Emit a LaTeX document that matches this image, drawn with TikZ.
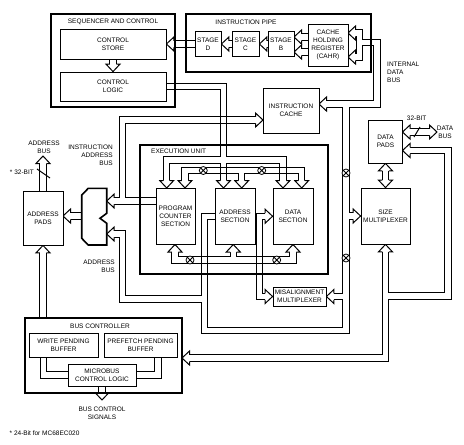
\documentclass[tikz,border=0pt]{standalone}
\usepackage{fontspec}
\setmainfont{Liberation Sans}
\usetikzlibrary{positioning}

\pgfdeclarelayer{buses}
\pgfsetlayers{buses,main}

\newcommand\lbl{\fontsize{6.5}{7.8}\selectfont}
% grid where two buses cross without joining
\newcommand\xing[2]{%
  \draw[line width=1pt] (#1-3.25,#2-3.75) -- (#1-3.25,#2+3.75) (#1+3.25,#2-3.75) -- (#1+3.25,#2+3.75)
    (#1-3.75,#2-3.25) -- (#1+3.75,#2-3.25) (#1-3.75,#2+3.25) -- (#1+3.75,#2+3.25);}

\tikzset{
  blk/.style={draw, line width=0.8pt, fill=white, align=center, inner sep=1pt, font=\lbl},
  unit/.style={line width=1.8pt},
  tag/.style={font=\lbl, inner sep=0pt, align=center},
  busout/.style={line width=7.5pt},
  busin/.style={line width=5.5pt, white},
  xsw/.style={circle, draw, line width=0.8pt, fill=white, minimum size=8pt, inner sep=0pt,
    path picture={\draw[line width=0.8pt]
      (path picture bounding box.north west) -- (path picture bounding box.south east)
      (path picture bounding box.north east) -- (path picture bounding box.south west);}},
  hhead/.pic={
    \fill[white] (0,0) -- (-7.5,7) -- (-7.5,-7) -- cycle;
    \draw[line width=1pt] (-7.5,3.25) -- (-7.5,7) -- (0,0) -- (-7.5,-7) -- (-7.5,-3.25);}
}

\begin{document}
\begin{tikzpicture}[x=1pt, y=-1pt]
\useasboundingbox (0,0) rectangle (464,445);

% sequencer and control
\draw[unit] (51,14) rectangle (175,107);
\node[tag] (tseq) at (113,22) {SEQUENCER AND CONTROL};
\node[blk, minimum width=106pt, minimum height=30pt] (cstore) at (113,44) {CONTROL\\STORE};
\node[blk, minimum width=106pt, minimum height=29pt] (clogic) at (113,86.5) {CONTROL\\LOGIC};

% instruction pipe
\draw[unit] (186,14) rectangle (371,72);
\node[tag] (tpipe) at (246,22.5) {INSTRUCTION PIPE};
\node[blk, minimum width=26pt, minimum height=25pt] (stgD) at (208,44) {STAGE\\D};
\node[blk, minimum width=27pt, minimum height=25pt] (stgC) at (245.5,44) {STAGE\\C};
\node[blk, minimum width=26pt, minimum height=25pt] (stgB) at (281,44) {STAGE\\B};
\node[blk, minimum width=40pt, minimum height=42pt] (cahr) at (328,45) {CACHE\\HOLDING\\REGISTER\\(CAHR)};

\node[blk, minimum width=56pt, minimum height=45pt] (icache) at (291,110.5) {INSTRUCTION\\CACHE};

% execution unit
\draw[unit] (140,145) rectangle (328,274);
\node[tag, anchor=west] (texec) at (151,151) {EXECUTION UNIT};
\node[blk, minimum width=39pt, minimum height=56.5pt] (pcs) at (175.5,216.25) {PROGRAM\\COUNTER\\SECTION};
\node[blk, minimum width=40pt, minimum height=56.5pt] (asec) at (235,216.25) {ADDRESS\\SECTION};
\node[blk, minimum width=40pt, minimum height=56.5pt] (dsec) at (293,216.25) {DATA\\SECTION};

\node[blk, minimum width=34pt, minimum height=43pt] (dpads) at (385.5,141.5) {DATA\\PADS};
\node[blk, minimum width=49pt, minimum height=56pt] (smux) at (385.5,216) {SIZE\\MULTIPLEXER};
\node[blk, minimum width=53pt, minimum height=19pt] (mmux) at (299.5,296.5) {MISALIGNMENT\\MULTIPLEXER};
\node[blk, minimum width=40pt, minimum height=54pt] (apads) at (43,218) {ADDRESS\\PADS};

% bus controller
\draw[unit] (25,318) rectangle (182,393);
\node[tag] (tbus) at (100,326) {BUS CONTROLLER};
\node[blk, minimum width=69pt, minimum height=24pt] (wpb) at (63.5,345) {WRITE PENDING\\BUFFER};
\node[blk, minimum width=73pt, minimum height=24pt] (ppb) at (140.5,345) {PREFETCH PENDING\\BUFFER};
\node[blk, minimum width=68pt, minimum height=22pt] (mcl) at (102,375) {MICROBUS\\CONTROL LOGIC};

% address multiplexer
\draw[line width=1.6pt, fill=white] (88.3,188.3) -- (106.7,188.3) -- (106.7,213.3) -- (100,218.3)
  -- (106.7,223.3) -- (106.7,245) -- (88.3,245) -- (81.7,238.3) -- (81.7,195) -- cycle;

% bus ends
\coordinate (tB1) at (294,37);   \coordinate (tB2) at (294,52);
\coordinate (tC1) at (348,33);   \coordinate (tC2) at (348,57);
\coordinate (tIc) at (319,104);  \coordinate (tIw) at (263,120);
\coordinate (pco) at (156,201);  \coordinate (mxa) at (106.7,201);  \coordinate (mxb) at (106.7,234);
\coordinate (cb1) at (223.5,188);
\coordinate (t1) at (166.7,188); \coordinate (t2) at (185,188);   \coordinate (t3) at (283,188);
\coordinate (t4) at (301.7,188); \coordinate (t5) at (241.7,188);
\coordinate (u1) at (175,244.5); \coordinate (u2) at (233.3,244.5); \coordinate (u3) at (293,244.5);
\coordinate (dx1) at (402.5,132); \coordinate (dx2) at (437,132); \coordinate (dp2) at (402.5,150.5);
\coordinate (sb) at (182,358);
\coordinate (bc) at (43,318);    \coordinate (ap1) at (43,156);   \coordinate (ap2) at (63,216);
\coordinate (wq) at (43.5,357);  \coordinate (pq) at (158,357);   \coordinate (mc1) at (102,400);

\begin{pgfonlayer}{buses}
\foreach \s in {busout,busin}{
  \draw[\s, shorten >=7.5pt] (cstore.south) -- (clogic.north);
  \draw[\s, shorten >=7.5pt] (stgD.west) -- (cstore.east);
  \draw[\s, shorten >=7.5pt] (stgC.west) -- (stgD.east);
  \draw[\s, shorten >=7.5pt] (stgB.west) -- (stgC.east);
  \draw[\s, shorten >=7.5pt] (cahr.west |- tB1) -- (tB1);
  \draw[\s, shorten >=7.5pt] (cahr.west |- tB2) -- (tB2);
  % internal data bus
  \draw[\s, shorten <=7.5pt, shorten >=7.5pt] (tC1) -- (359.5,33) -- (359.5,57) -- (tC2);
  \draw[\s, shorten >=7.5pt] (359.5,42.5) -| (377,104) -- (tIc);
  \draw[\s] (346,104) -- (346,330.5) -| (204.5,216.25) -- (asec.west);
  \draw[\s, shorten >=7.5pt] (346,216) -- (smux.west);
  \draw[\s, shorten >=7.5pt] (346,296.5) -- (mmux.east);
  % instruction address bus
  \draw[\s, shorten >=7.5pt] (pco) -- (mxa);
  \draw[\s, shorten >=7.5pt] (122.5,201) |- (tIw);
  % address bus
  \draw[\s, shorten >=7.5pt] (204.5,299) -| (122.5,234) -- (mxb);
  % control and execution unit
  \draw[\s, shorten >=7.5pt] (clogic.east) -| (cb1);
  \draw[\s, shorten <=7.5pt, shorten >=7.5pt] (t1) |- (283,160) -- (t3);
  \draw[\s, shorten <=7.5pt, shorten >=7.5pt] (t2) |- (301.7,170.5) -- (t4);
  \draw[\s, shorten >=7.5pt] (241.7,170.5) -- (t5);
  \draw[\s, shorten <=7.5pt, shorten >=7.5pt] (u1) |- (293,260) -- (u3);
  \draw[\s, shorten >=7.5pt] (233.3,260) -- (u2);
  \draw[\s, shorten <=7.5pt, shorten >=7.5pt] (dsec.west) -| (259.5,296.5) -- (mmux.west);
  % data side
  \draw[\s, shorten <=7.5pt, shorten >=7.5pt] (dpads.south) -- (smux.north);
  \draw[\s, shorten <=7.5pt, shorten >=7.5pt] (dx1) -- (dx2);
  \draw[\s, shorten <=7.5pt, shorten >=7.5pt] (smux.south) |- (sb);
  \draw[\s, shorten >=7.5pt] (385.5,296) -| (448,150.5) -- (dp2);
  % address pads and bus controller
  \draw[\s, shorten >=7.5pt] (bc) -- (apads.south);
  \draw[\s, shorten >=7.5pt] (apads.north) -- (ap1);
  \draw[\s, shorten >=7.5pt] (81.7,216) -- (ap2);
  \draw[\s] (wq) |- (mcl.west);
  \draw[\s] (pq) |- (mcl.east);
  \draw[\s, shorten >=7.5pt] (mcl.south) -- (mc1);
}
\foreach \p/\r in {clogic.north/-90, cstore.east/180, stgD.east/180, stgC.east/180, tB1/180, tB2/180,
    tC1/180, tC2/180, tIc/180, smux.west/0, mmux.east/180, mxa/180, tIw/0, mxb/180, cb1/-90,
    t1/-90, t2/-90, t3/-90, t4/-90, t5/-90, u1/90, u2/90, u3/90, dsec.west/0, mmux.west/0,
    dpads.south/90, smux.north/-90, dx1/180, dx2/0, smux.south/90, sb/180, dp2/180,
    apads.south/90, ap1/90, ap2/180, mc1/-90}
  \pic[rotate=\r] at (\p) {hhead};
\xing{223.5}{120} \xing{223.5}{170.5} \xing{283}{170.5} \xing{204.5}{260} \xing{259.5}{260}
\end{pgfonlayer}

% bus switches
\foreach \x/\y [count=\i] in {346/173, 346/258, 203.3/170.5, 261.7/170.5, 190/260, 276.7/260}
  \node[xsw] (sw\i) at (\x,\y) {};

% bus widths
\draw[line width=1pt] (37,169) -- (50,178);
\draw[line width=1pt] (414,137) -- (420,127);

% labels
\node[tag, anchor=west, align=left] (lidb) at (387,72) {INTERNAL\\DATA\\BUS};
\node[tag, anchor=east, align=right] (liab) at (113,155) {INSTRUCTION\\ADDRESS\\BUS};
\node[tag, anchor=east, align=right] (lab) at (115,266) {ADDRESS\\BUS};
\node[tag] (labo) at (44,147) {ADDRESS\\BUS};
\node[tag, anchor=east] (lw32) at (34,172.5) {* 32-BIT};
\node[tag] (ld32) at (416.7,118.7) {32-BIT};
\node[tag] (ldb) at (445,132) {DATA\\BUS};
\node[tag] (lbcs) at (102,413) {BUS CONTROL\\SIGNALS};
\node[tag, anchor=west] (note) at (9.5,433) {* 24-Bit for MC68EC020};
\end{tikzpicture}
\end{document}
